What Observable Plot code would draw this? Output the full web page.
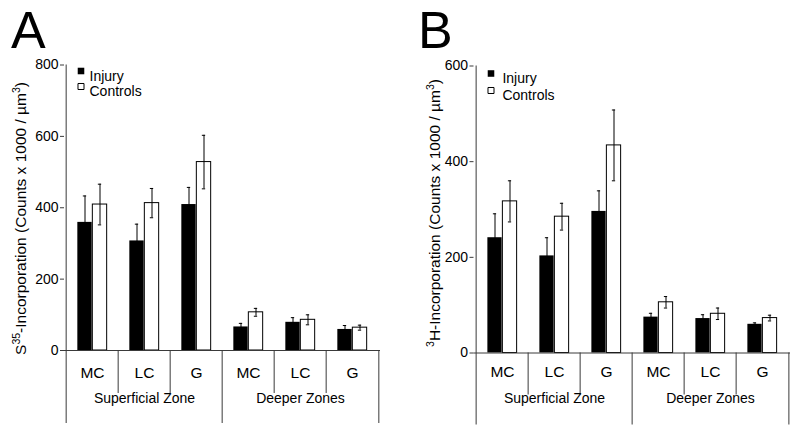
<!DOCTYPE html>
<html><head><meta charset="utf-8">
<script src="https://cdn.jsdelivr.net/npm/d3@7"></script>
<script src="https://cdn.jsdelivr.net/npm/@observablehq/plot@0.6"></script>
<style>
body{margin:0;background:#fff;}
#wrap{display:flex;width:800px;height:434px;background:#fff;}
svg text{font-family:"Liberation Sans",Arial,sans-serif;}
</style></head><body><div id="wrap"></div>
<script>
// ---- data ----
const categories = ["MC","LC","G","MC","LC","G"];
const zones = ["Superficial Zone","Deeper Zones"];
const zoneCenterIndex = [1,4];
const seriesNames = ["Injury","Controls"];

// Panel A: S35 incorporation
const injuryA      = [359, 307, 409, 66, 79, 59];
const injuryErrA   = [74, 47, 48, 10, 13, 11];
const controlsA    = [409, 413, 528, 107, 86, 64];
const controlsErrA = [57, 41, 75, 11, 14, 7];
const yTicksA = [0, 200, 400, 600, 800];

// Panel B: 3H incorporation
const injuryB      = [241, 203, 296, 75, 72, 60];
const injuryErrB   = [50, 38, 43, 8, 8, 3];
const controlsB    = [317, 285, 434, 106, 82, 73];
const controlsErrB = [43, 28, 74, 12, 12, 6];
const yTicksB = [0, 200, 400, 600];

const titleA = [["S",0],["35",1],["-Incorporation (Counts x 1000 / µm",0],["3",1],[")",0]];
const titleB = [["3",1],["H-Incorporation (Counts x 1000 / µm",0],["3",1],[")",0]];

function panel(o) {
  const W = 400, H = 434;
  const bw = (W - o.ml - o.mr) / 6;
  const barW = 15, capHalf = 2;
  const lineColor = "#3a3a3a";
  const injC = bw/2 - barW/2, conC = bw/2 + barW/2;
  const rows = d3.range(6).map(i => ({i, inj: o.inj[i], injE: o.injE[i], con: o.con[i], conE: o.conE[i]}));
  const zoneRows = zones.map((z, k) => ({z, i: zoneCenterIndex[k]}));
  const svg = Plot.plot({
    width: W, height: H,
    marginTop: o.mt, marginBottom: o.mb, marginLeft: o.ml, marginRight: o.mr,
    style: {fontFamily: "Liberation Sans, Arial, sans-serif", fontSize: "14px", color: "black", background: "white", overflow: "visible"},
    x: {type: "band", domain: d3.range(6), padding: 0},
    y: {domain: [0, o.yMax]},
    marks: [
      Plot.barY(rows, {x: "i", y: "inj", fill: "black", insetLeft: bw/2 - barW, insetRight: bw/2}),
      Plot.barY(rows, {x: "i", y: "con", fill: "white", stroke: "black", strokeWidth: 1, insetLeft: bw/2, insetRight: bw/2 - barW}),
      Plot.ruleX(rows, {x: "i", y1: d => d.inj - d.injE, y2: d => d.inj + d.injE, dx: -barW/2, stroke: "black"}),
      Plot.ruleX(rows, {x: "i", y1: d => d.con - d.conE, y2: d => d.con + d.conE, dx: barW/2, stroke: "black"}),
      Plot.tickY(rows, {x: "i", y: d => d.inj + d.injE, insetLeft: injC - capHalf, insetRight: bw - injC - capHalf, stroke: "black"}),
      Plot.tickY(rows, {x: "i", y: d => d.con + d.conE, insetLeft: conC - capHalf, insetRight: bw - conC - capHalf, stroke: "black"}),
      Plot.tickY(rows, {x: "i", y: d => d.con - d.conE, insetLeft: conC - capHalf, insetRight: bw - conC - capHalf, stroke: "black"}),
      Plot.ruleY([0], {stroke: lineColor}),
      Plot.ruleX([0], {x: d => d, dx: -bw/2, stroke: lineColor, insetBottom: -o.long}),
      Plot.ruleX([1, 2, 4, 5], {x: d => d, dx: -bw/2, y1: 0, y2: 0, insetBottom: -o.short, stroke: lineColor}),
      Plot.ruleX([3], {x: d => d, dx: -bw/2, y1: 0, y2: 0, insetBottom: -o.long, stroke: lineColor}),
      Plot.ruleX([5], {x: d => d, dx: bw/2, y1: 0, y2: 0, insetBottom: -o.long, stroke: lineColor}),
      Plot.axisY({ticks: o.yTicks, tickSize: 4, tickPadding: 2, fontSize: 14, label: null, stroke: lineColor}),
      Plot.axisX({tickSize: 0, tickPadding: o.catPad, fontSize: 15.5, tickFormat: i => categories[i], label: null}),
      Plot.text(zoneRows, {x: "i", text: "z", frameAnchor: "bottom", dy: o.zoneDy, fontSize: 14, fill: "black"}),
      Plot.dot([seriesNames[0]], {frameAnchor: "top-left", dx: o.lsx, dy: o.ly1, symbol: "square", r: 3.7, fill: "black"}),
      Plot.dot([seriesNames[1]], {frameAnchor: "top-left", dx: o.lsx, dy: o.ly2, symbol: "square", r: 3.4, fill: "white", stroke: "black", strokeWidth: 1}),
      Plot.text([seriesNames[0]], {frameAnchor: "top-left", dx: o.ltx, dy: o.ly1, textAnchor: "start", fontSize: 14, fill: "black"}),
      Plot.text([seriesNames[1]], {frameAnchor: "top-left", dx: o.ltx, dy: o.ly2, textAnchor: "start", fontSize: 14, fill: "black"})
    ]
  });
  const s = d3.select(svg);
  s.append("text").attr("x", o.letterX).attr("y", 48).attr("text-anchor", "start")
    .attr("font-size", 52).attr("fill", "black").text(o.letter);
  const t = s.append("text")
    .attr("transform", `translate(${o.tx},${o.ty}) rotate(-90)`)
    .attr("text-anchor", "middle").attr("font-size", 15.5).attr("fill", "black");
  let raised = false;
  o.title.forEach(([str, sup]) => {
    const sp = t.append("tspan").text(str);
    if (sup && !raised) { sp.attr("dy", -6).attr("font-size", 10.5); raised = true; }
    else if (sup) { sp.attr("font-size", 10.5); }
    else if (!sup && raised) { sp.attr("dy", 6); raised = false; }
  });
  return svg;
}

const wrap = document.getElementById("wrap");
wrap.appendChild(panel({
  inj: injuryA, injE: injuryErrA, con: controlsA, conE: controlsErrA,
  yTicks: yTicksA, yMax: 800, mt: 64.5, mb: 84, ml: 64, mr: 20,
  short: 43, long: 73, catPad: 16, zoneDy: 52.5,
  lsx: 16.5, ltx: 25, ly1: 6, ly2: 21.5,
  letter: "A", letterX: 11, tx: 25.5, ty: 218.5, title: titleA
}));
wrap.appendChild(panel({
  inj: injuryB, injE: injuryErrB, con: controlsB, conE: controlsErrB,
  yTicks: yTicksB, yMax: 600, mt: 65.5, mb: 81.5, ml: 73.5, mr: 10,
  short: 42, long: 72, catPad: 12.5, zoneDy: 49.5,
  lsx: 17, ltx: 28.4, ly1: 7.5, ly2: 24.5,
  letter: "B", letterX: 18, tx: 40, ty: 213, title: titleB
}));
</script></body></html>
